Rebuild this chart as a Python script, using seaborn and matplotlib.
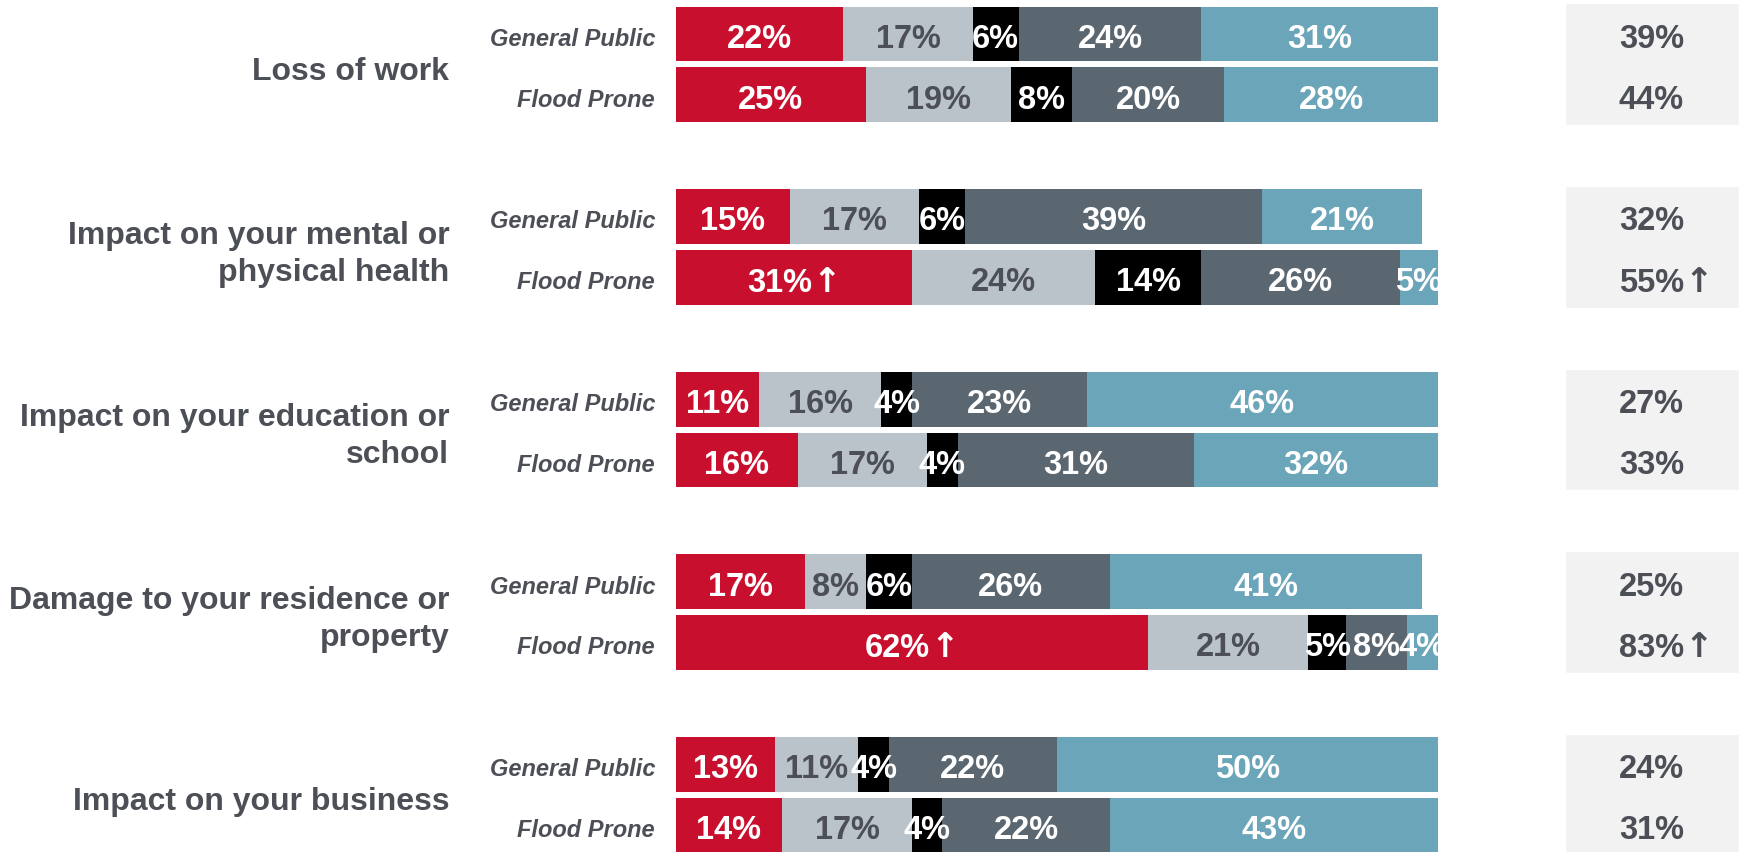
import matplotlib
matplotlib.use('Agg')
import numpy as np
import pandas as pd
import matplotlib.pyplot as plt
from matplotlib.offsetbox import TextArea, HPacker, AnnotationBbox
import seaborn as sns

topics = ['Loss of work',
          'Impact on your mental or\nphysical health',
          'Impact on your education or\nschool',
          'Damage to your residence or\nproperty',
          'Impact on your business']
groups = ['General Public', 'Flood Prone']

# one value per row: topic 1 GP, topic 1 FP, topic 2 GP, ...
seg_major = [22, 25, 15, 31, 11, 16, 17, 62, 13, 14]
seg_some = [17, 19, 17, 24, 16, 17, 8, 21, 11, 17]
seg_unsure = [6, 8, 6, 14, 4, 4, 6, 5, 4, 4]
seg_little = [24, 20, 39, 26, 23, 31, 26, 8, 22, 22]
seg_none = [31, 28, 21, 5, 46, 32, 41, 4, 50, 43]
net = [39, 44, 32, 55, 27, 33, 25, 83, 24, 31]
higher = [False, False, False, True, False, False, False, True, False, False]

segments = [seg_major, seg_some, seg_unsure, seg_little, seg_none]
colors = ['#c8102e', '#bac2ca', '#000000', '#5b6770', '#6aa5b9']
txt_colors = ['white', '#4d4f57', 'white', 'white', 'white']
grey_txt = '#4d4f57'

sns.set_style('white')
plt.rcParams['font.family'] = ['Liberation Sans', 'DejaVu Sans']


def arrow_label(ax, x, y, num, color, size, align):
    # number in Liberation Sans, bold arrow from DejaVu Sans
    a = TextArea(num, textprops=dict(color=color, fontsize=size, fontweight='bold',
                                     family=['Liberation Sans']))
    b = TextArea('\u2191', textprops=dict(color=color, fontsize=size + 1, fontweight='bold',
                                         family=['DejaVu Sans']))
    box = HPacker(children=[a, b], align='baseline', pad=0, sep=0)
    ab = AnnotationBbox(box, (x, y), xycoords='data', frameon=False,
                        box_alignment=(align, 0.5), pad=0)
    ax.add_artist(ab)


n_rows = len(net)
pos = [3 * (i // 2) + (i % 2) for i in range(n_rows)]
vals = np.array(segments, dtype=float)
cum = np.cumsum(vals, axis=0)
df = pd.DataFrame({'pos': pos})
for k in range(len(segments)):
    df['cum%d' % k] = cum[k]

fig = plt.figure(figsize=(17.48, 8.53), dpi=100)
ax = fig.add_axes([0, 0, 1, 1])

# stacked bars: draw cumulative totals from the outside in
for k in range(len(segments) - 1, -1, -1):
    sns.barplot(data=df, x='cum%d' % k, y='pos', orient='y', native_scale=True,
                width=0.9, color=colors[k], saturation=1, linewidth=0, ax=ax)

dy = 0.07
for i in range(n_rows):
    left = 0
    ty = pos[i] + dy
    for k in range(len(segments)):
        v = vals[k, i]
        if k == 0 and higher[i]:
            arrow_label(ax, left + v / 2, ty, '%d%%' % v, txt_colors[k], 23.5, 0.5)
        else:
            ax.text(left + v / 2, ty, '%d%%' % v, ha='center', va='center',
                    fontsize=23.5, fontweight='bold', color=txt_colors[k])
        left += v
    ax.text(-2.7, ty, groups[i % 2], ha='right', va='center',
            fontsize=17, fontweight='bold', style='italic', color=grey_txt)
    if higher[i]:
        arrow_label(ax, 123.8, ty, '%d%%' % net[i], grey_txt, 23.5, 0.0)
    else:
        ax.text(123.8, ty, '%d%%' % net[i], ha='left', va='center',
                fontsize=23.5, fontweight='bold', color=grey_txt)

for g, t in enumerate(topics):
    ax.barh(3 * g + 0.497, 22.8, height=2.0, left=116.7, color='#f2f2f2',
            zorder=0.5)
    ax.text(-29.7, 3 * g + 0.6, t, ha='right', va='center', fontsize=23,
            fontweight='bold', color=grey_txt, linespacing=1.31)

ax.set_xlim(-88.66, 140.73)
ax.set_ylim(13.44, -0.575)
ax.axis('off')
fig.savefig('out.png', dpi=100)
